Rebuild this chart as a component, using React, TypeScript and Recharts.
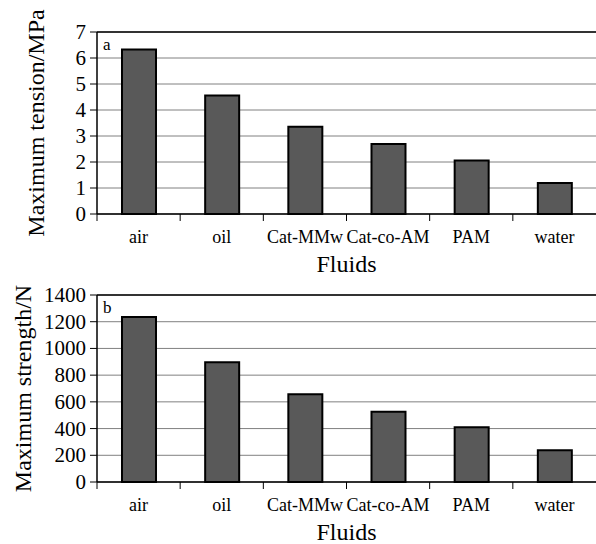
import React from 'react';
import { BarChart, Bar, XAxis, YAxis, CartesianGrid, ReferenceLine } from 'recharts';

const fluids = ['air', 'oil', 'Cat-MMw', 'Cat-co-AM', 'PAM', 'water'];
const tensionValues = [6.33, 4.56, 3.36, 2.69, 2.06, 1.19];
const strengthValues = [1235, 896, 657, 526, 409, 237];
const tensionTicks = [0, 1, 2, 3, 4, 5, 6, 7];
const strengthTicks = [0, 200, 400, 600, 800, 1000, 1200, 1400];

const FONT = '"Liberation Serif", "Times New Roman", Times, serif';

const tensionData = fluids.map((f, i) => ({ name: f, v: tensionValues[i] }));
const strengthData = fluids.map((f, i) => ({ name: f, v: strengthValues[i] }));

const XTick = (props: any) => {
  const { x, y, payload, width, visibleTicksCount } = props;
  const bw = width / (visibleTicksCount || 6);
  return (
    <g>
      <line x1={x - bw / 2} x2={x - bw / 2} y1={y - 8} y2={y - 1} stroke="#000" strokeWidth={1} />
      <text x={x} y={y + 21} textAnchor="middle" style={{ fontFamily: FONT, fontSize: 18 }} fill="#000">
        {payload.value}
      </text>
    </g>
  );
};

const YTick = (props: any) => {
  const { x, y, payload } = props;
  return (
    <text x={x} y={y} dy={7} textAnchor="end" style={{ fontFamily: FONT, fontSize: 21 }} fill="#000">
      {payload.value}
    </text>
  );
};

const YLabel = (text: string, cx: number) => (props: any) => {
  const vb = props.viewBox || {};
  const cy = vb.y + vb.height / 2;
  return (
    <text
      x={cx}
      y={cy}
      transform={`rotate(-90, ${cx}, ${cy})`}
      textAnchor="middle"
      dominantBaseline="central"
      style={{ fontFamily: FONT, fontSize: 24 }}
      fill="#000"
    >
      {text}
    </text>
  );
};

const XLabel = (props: any) => {
  const vb = props.viewBox || {};
  return (
    <text
      x={vb.x + vb.width / 2}
      y={vb.y + 58}
      textAnchor="middle"
      style={{ fontFamily: FONT, fontSize: 24 }}
      fill="#000"
    >
      Fluids
    </text>
  );
};

const Panel = ({ data, ticks, max, yLabel, yLabelX, letter, top, xHeight, height }: any) => (
  <BarChart
    width={596}
    height={height}
    data={data}
    margin={{ top, right: 0, bottom: 0, left: 0 }}
    barSize={34}
    style={{ fontFamily: FONT }}
  >
    <CartesianGrid vertical={false} stroke="#808080" strokeWidth={1} />
    <XAxis
      dataKey="name"
      axisLine={{ stroke: '#000', strokeWidth: 1.5 }}
      tickLine={false}
      tick={<XTick />}
      height={xHeight}
      interval={0}
      label={<XLabel />}
    />
    <YAxis
      domain={[0, max]}
      ticks={ticks}
      width={97}
      tickSize={7}
      tickMargin={4}
      axisLine={{ stroke: '#000', strokeWidth: 1.5 }}
      tickLine={{ stroke: '#000' }}
      tick={<YTick />}
      label={YLabel(yLabel, yLabelX)}
      interval={0}
    />
    <ReferenceLine y={max} stroke="#333" strokeWidth={2} />
    <Bar dataKey="v" fill="#595959" stroke="#000" strokeWidth={2} isAnimationActive={false} />
    <text x={103} y={top + 18} style={{ fontFamily: FONT, fontSize: 17 }} fill="#000">
      {letter}
    </text>
  </BarChart>
);

export default function App() {
  return (
    <div style={{ position: 'absolute', left: 0, top: 0, width: 596, height: 544, background: '#fff', fontFamily: FONT }}>
      <div style={{ position: 'absolute', left: 0, top: 0, visibility: 'hidden', fontFamily: FONT, fontSize: 20 }}>
        Fluids air oil 0123456789
      </div>
      <div style={{ position: 'absolute', left: 0, top: 272 }}>
        <Panel
          data={strengthData}
          ticks={strengthTicks}
          max={1400}
          yLabel="Maximum strength/N"
          yLabelX={23}
          letter="b"
          top={23}
          xHeight={62}
          height={272}
        />
      </div>
      <div style={{ position: 'absolute', left: 0, top: 0 }}>
        <Panel
          data={tensionData}
          ticks={tensionTicks}
          max={7}
          yLabel="Maximum tension/MPa"
          yLabelX={36}
          letter="a"
          top={32}
          xHeight={66}
          height={280}
        />
      </div>
    </div>
  );
}
